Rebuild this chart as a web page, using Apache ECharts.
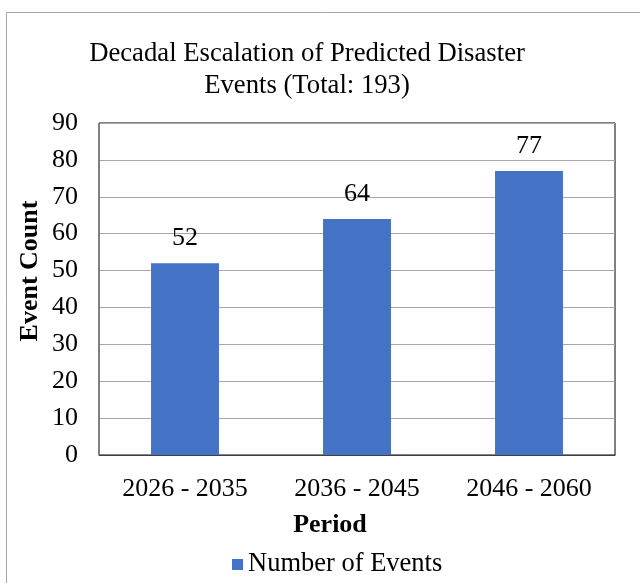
<!DOCTYPE html>
<html>
<head>
<meta charset="utf-8">
<script src="https://cdn.jsdelivr.net/npm/echarts@6/dist/echarts.min.js"></script>
<style>
html,body{margin:0;padding:0;background:#fff;}
#chart{width:640px;height:583px;}
</style>
</head>
<body>
<div id="chart"></div>
<script>
const categories = ['2026 - 2035', '2036 - 2045', '2046 - 2060'];
const eventCounts = [52, 64, 77];
const seriesName = 'Number of Events';
const titleText = 'Decadal Escalation of Predicted Disaster\nEvents (Total: 193)';
const yAxisTitle = 'Event Count';
const xAxisTitle = 'Period';
const yMin = 0, yMax = 90, yInterval = 10;

const FONT = '"Liberation Serif", "Times New Roman", serif';
const chart = echarts.init(document.getElementById('chart'), null, {renderer: 'canvas'});
chart.setOption({
  backgroundColor: '#fff',
  animation: false,
  graphic: [{
    type: 'rect',
    shape: {x: 6.5, y: 12.5, width: 700, height: 700},
    style: {fill: 'none', stroke: '#a6a6a6', lineWidth: 1},
    silent: true
  }, {
    type: 'text',
    x: 30, y: 271,
    rotation: Math.PI / 2,
    style: {text: yAxisTitle, fontFamily: FONT, fontSize: 26, fontWeight: 'bold', fill: '#000',
            align: 'center', verticalAlign: 'middle'},
    silent: true
  }, {
    type: 'text',
    x: 330, y: 525,
    style: {text: xAxisTitle, fontFamily: FONT, fontSize: 26, fontWeight: 'bold', fill: '#000',
            align: 'center', verticalAlign: 'middle'},
    silent: true
  }],
  title: {
    text: titleText,
    left: 302,
    top: 33,
    textAlign: 'center',
    textStyle: {fontFamily: FONT, fontSize: 26.7, fontWeight: 'normal', color: '#000', lineHeight: 32}
  },
  grid: {
    left: 99, right: 25, top: 123, bottom: 128,
    show: true, borderColor: '#000', borderWidth: 1
  },
  legend: {
    data: [seriesName],
    top: 546,
    left: 227,
    itemWidth: 11, itemHeight: 11, itemGap: 6,
    icon: 'rect',
    textStyle: {fontFamily: FONT, fontSize: 26.5, color: '#000', padding: [0, 0, 0, 0]}
  },
  xAxis: {
    type: 'category',
    data: categories,
    axisLine: {lineStyle: {color: '#404040', width: 1}},
    axisTick: {show: false},
    axisLabel: {fontFamily: FONT, fontSize: 26, color: '#000', margin: 21}
  },
  yAxis: {
    type: 'value',
    min: yMin, max: yMax, interval: yInterval,
    axisLine: {show: true, lineStyle: {color: '#808080', width: 1}},
    axisTick: {show: false},
    splitLine: {lineStyle: {color: '#a6a6a6', width: 1}},
    axisLabel: {fontFamily: FONT, fontSize: 26, color: '#000', margin: 21}
  },
  series: [{
    name: seriesName,
    type: 'bar',
    data: eventCounts,
    barWidth: '39.5%',
    itemStyle: {color: '#4472c4'},
    label: {
      show: true, position: 'top', distance: 12,
      fontFamily: FONT, fontSize: 26, color: '#000'
    }
  }]
});
</script>
</body>
</html>
